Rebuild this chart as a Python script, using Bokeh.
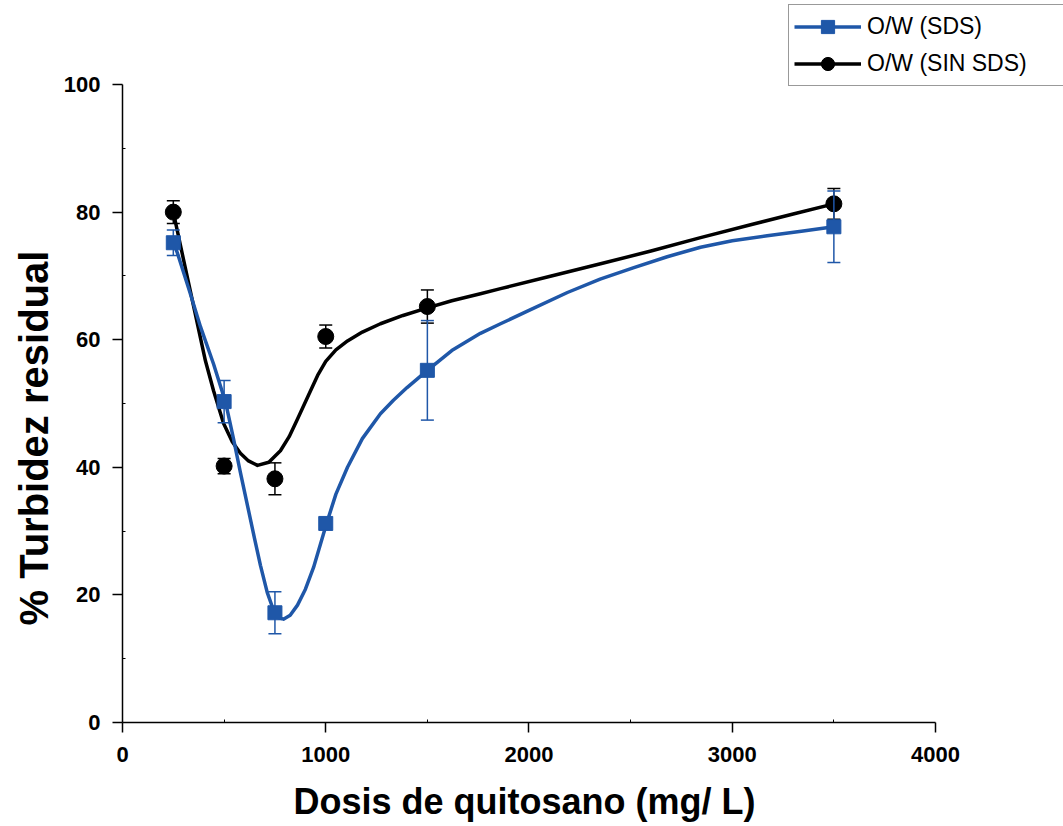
from bokeh.plotting import figure
from bokeh.models import Legend, LegendItem, FixedTicker, Range1d, Title
from bokeh.embed import file_html
from bokeh.resources import INLINE

# ---- data ----
dose = [250, 500, 750, 1000, 1500, 3500]
sds = [75.2, 50.3, 17.2, 31.2, 55.2, 77.7]
sds_err = [2.0, 3.3, 3.3, 0.6, 7.8, 5.6]
sin_sds = [80.0, 40.2, 38.2, 60.5, 65.2, 81.3]
sin_sds_err = [1.8, 1.2, 2.5, 1.8, 2.6, 2.4]

# smoothed fit curves as drawn in the reference
sds_fit_x = [250, 270, 330, 384, 448, 507, 546, 580, 615, 650, 679, 712, 743, 770, 792, 825, 861, 900, 940, 1004,
             1050, 1107, 1180, 1269, 1333, 1400, 1500, 1620, 1761, 1860, 2000, 2189, 2350, 2516, 2680, 2844, 3000, 3172, 3340, 3500]
sds_fit_y = [75.2, 73.6, 67.6, 62.0, 56.2, 50.2, 44.5, 39.2, 34.0, 28.8, 24.6, 20.4, 17.6, 16.4, 16.2, 16.8, 18.4, 20.9, 24.3, 31.2,
             35.8, 40.0, 44.5, 48.4, 50.5, 52.5, 55.2, 58.3, 61.0, 62.5, 64.6, 67.4, 69.5, 71.3, 73.0, 74.5, 75.5, 76.3, 77.0, 77.7]
sin_fit_x = [250, 300, 349, 380, 408, 448, 497, 540, 580, 620, 664, 720, 777, 820, 860, 915, 960, 1000, 1050, 1107, 1180,
             1269, 1380, 1500, 1620, 1761, 1860, 2100, 2352, 2600, 2844, 3100, 3300, 3500]
sin_fit_y = [80.0, 72.6, 65.4, 60.8, 56.7, 52.0, 46.9, 44.0, 42.2, 41.0, 40.3, 40.8, 42.6, 44.8, 47.5, 51.3, 54.4, 56.6, 58.4, 59.8, 61.2,
             62.5, 63.8, 65.0, 66.1, 67.2, 68.0, 69.9, 71.9, 73.9, 76.0, 78.1, 79.7, 81.3]

x_ticks = [0, 1000, 2000, 3000, 4000]
x_minor = [500, 1500, 2500, 3500]
y_ticks = [0, 20, 40, 60, 80, 100]
y_minor = [10, 30, 50, 70, 90]

BLUE = "#1f57a8"
BLACK = "#000000"
FONT = "Liberation Sans"

# frame spans to the right/top edge so the legend can sit in the corner; axes are bounded
p = figure(frame_width=941, frame_height=722, output_backend="svg", toolbar_location=None,
           x_range=Range1d(0, 4629.8), y_range=Range1d(0, 113.17),
           min_border_left=122, min_border_right=0, min_border_top=0, min_border_bottom=104)
p.outline_line_color = None
p.grid.visible = False
p.background_fill_color = "white"
p.border_fill_color = "white"

for ax in (p.xaxis[0], p.yaxis[0]):
    ax.axis_line_width = 1.5
    ax.axis_line_color = "black"
    ax.major_tick_line_width = 1.5
    ax.major_tick_line_color = "black"
    ax.minor_tick_line_color = "black"
    ax.minor_tick_line_width = 1
    ax.major_tick_in = 0
    ax.major_tick_out = 10
    ax.minor_tick_in = 3
    ax.minor_tick_out = 0
    ax.major_label_text_font = FONT
    ax.major_label_text_font_style = "bold"
    ax.major_label_text_font_size = "22px"
    ax.major_label_text_color = "black"

p.xaxis[0].major_label_standoff = 14
p.yaxis[0].major_label_standoff = 12
p.xaxis[0].bounds = (0, 4000)
p.yaxis[0].bounds = (0, 100)
p.xaxis[0].ticker = FixedTicker(ticks=x_ticks, minor_ticks=x_minor)
p.yaxis[0].ticker = FixedTicker(ticks=y_ticks, minor_ticks=y_minor)

ytitle = Title(text="% Turbidez residual", align="left", offset=97, text_font=FONT,
               text_font_style="bold", text_font_size="40px", text_color="black")
p.add_layout(ytitle, "left")
xtitle = Title(text="Dosis de quitosano (mg/ L)", align="left", offset=171, text_font=FONT,
               text_font_style="bold", text_font_size="36px", text_color="black", standoff=29)
p.add_layout(xtitle, "below")

# ---- SIN SDS (black) ----
sin_line = p.line(sin_fit_x, sin_fit_y, line_color=BLACK, line_width=3.5, line_join="round")
sin_lo = [v - e for v, e in zip(sin_sds, sin_sds_err)]
sin_hi = [v + e for v, e in zip(sin_sds, sin_sds_err)]
p.segment(x0=dose, y0=sin_lo, x1=dose, y1=sin_hi, line_color=BLACK, line_width=1.5)
p.scatter(dose, sin_lo, marker="dash", size=13, line_color=BLACK, line_width=1.5)
p.scatter(dose, sin_hi, marker="dash", size=13, line_color=BLACK, line_width=1.5)
sin_pts = p.scatter(dose, sin_sds, marker="circle", size=16, fill_color=BLACK, line_color=BLACK)

# ---- SDS (blue) ----
sds_line = p.line(sds_fit_x, sds_fit_y, line_color=BLUE, line_width=3.5, line_join="round")
sds_lo = [v - e for v, e in zip(sds, sds_err)]
sds_hi = [v + e for v, e in zip(sds, sds_err)]
p.segment(x0=dose, y0=sds_lo, x1=dose, y1=sds_hi, line_color=BLUE, line_width=1.5)
p.scatter(dose, sds_lo, marker="dash", size=13, line_color=BLUE, line_width=1.5)
p.scatter(dose, sds_hi, marker="dash", size=13, line_color=BLUE, line_width=1.5)
sds_pts = p.scatter(dose, sds, marker="square", size=14, fill_color=BLUE, line_color=BLUE)

legend = Legend(items=[LegendItem(label="O/W (SDS)", renderers=[sds_line, sds_pts]),
                       LegendItem(label="O/W (SIN SDS)", renderers=[sin_line, sin_pts])],
                location=(666, 636))
legend.label_text_font = FONT
legend.label_text_font_size = "23px"
legend.label_text_color = "black"
legend.glyph_width = 67
legend.glyph_height = 33
legend.label_height = 33
legend.label_width = 210
legend.label_standoff = 6
legend.padding = 5
legend.spacing = 4
legend.margin = 0
legend.border_line_color = "#333333"
legend.border_line_width = 1
legend.background_fill_alpha = 1
p.add_layout(legend)

open("out.html", "w").write(file_html(p, INLINE))
